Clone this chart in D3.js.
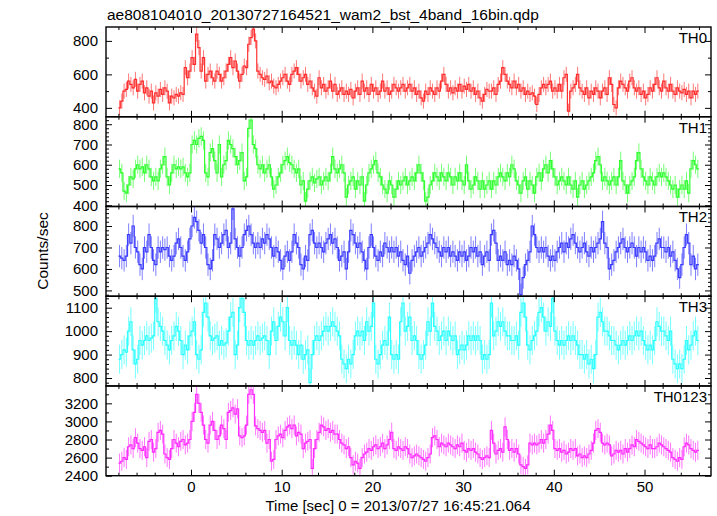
<!DOCTYPE html>
<html><head><meta charset="utf-8">
<script src="https://cdn.jsdelivr.net/npm/d3@7"></script>
<style>
body{margin:0;background:#fff;}
svg{display:block;}
text{font-family:"Liberation Sans",Arial,Helvetica,sans-serif;fill:#000;}
</style></head>
<body><svg id="c" width="717" height="516"></svg>
<script>
const title = "ae808104010_20130727164521_wam2_bst_4band_16bin.qdp";
const xLabel = "Time [sec] 0 = 2013/07/27 16:45:21.064";
const yLabel = "Counts/sec";
const panelNames = ["TH0", "TH1", "TH2", "TH3", "TH0123"];
const panelColors = ["#ff1a1a", "#1aff1a", "#2a2aff", "#1affff", "#ff1aff"];
const binStart = -8;      // sec, first bin edge
const binWidth = 0.25;    // sec
const xTickLabels = [0, 10, 20, 30, 40, 50];
const yDomains = [[347, 883], [394, 837], [473, 891], [766, 1149], [2400, 3392]];
const yTickLabels = [[400, 600, 800], [400, 500, 600, 700, 800], [500, 600, 700, 800], [800, 900, 1000, 1100], [2400, 2600, 2800, 3000, 3200]];
const yMinorStep = [100, 20, 20, 20, 100];
const errHalf = [45, 45, 52, 62, 105];

const th0 = [
400,440,500,510, 560,540,520,570, 500,540,560,490, 520,470,500,430,
490,470,510,480, 520,500,430,470, 460,480,470,490, 480,640,580,620,
700,660,840,760, 620,700,560,600, 620,580,560,620, 600,560,580,620,
660,700,640,680, 620,560,600,650, 640,780,820,870, 800,620,600,580,
570,590,550,560, 530,520,540,560, 580,600,560,540, 600,620,640,600,
560,580,600,540, 560,520,500,470, 580,520,540,500, 520,560,500,540,
480,500,520,480, 500,480,510,460, 500,520,480,560, 500,520,480,540,
500,520,480,500, 560,500,520,480, 500,540,520,500, 520,540,500,520,
540,500,520,480, 500,460,440,500, 480,520,500,480, 520,500,560,600,
540,500,520,490, 520,500,540,500, 530,510,540,500, 520,480,500,460,
440,480,510,500, 500,520,480,540, 560,640,600,560, 540,520,560,520,
540,500,520,480, 500,480,490,470, 420,480,520,540, 520,540,560,500,
520,500,540,500, 580,600,380,500, 520,540,600,520, 500,480,520,460,
500,480,520,500, 460,500,520,480, 580,540,420,400, 520,560,540,520,
500,560,580,520, 500,520,480,500, 460,480,520,500, 540,580,520,500,
560,520,500,540, 500,480,520,500, 490,510,480,500, 460,500,480,500];

const th1 = [
580,560,470,460, 500,540,530,580, 600,580,590,560, 600,580,540,520,
540,520,580,600, 640,540,500,560, 600,580,590,580, 590,560,540,560,
700,720,700,730, 740,720,560,540, 660,680,620,560, 700,540,600,620,
720,700,680,640, 600,620,660,520, 540,780,820,700, 680,600,580,600,
560,580,600,540, 480,500,540,560, 600,620,640,610, 600,580,560,580,
500,520,420,480, 520,540,510,530, 540,500,520,540, 520,560,640,580,
560,580,600,560, 440,500,520,540, 480,520,500,540, 420,500,560,580,
600,620,560,540, 500,480,460,520, 500,440,480,520, 500,520,540,500,
520,540,520,560, 600,560,520,420, 440,500,520,560, 540,520,560,540,
520,560,540,500, 540,520,560,520, 500,600,520,480, 500,540,520,480,
520,480,500,520, 480,520,500,540, 560,540,520,560, 540,600,580,520,
500,460,520,540, 480,520,500,460, 540,560,520,580, 600,560,620,580,
540,500,520,540, 520,500,540,500, 480,520,440,500, 520,480,500,520,
540,560,620,640, 600,520,540,520, 500,520,540,500, 540,620,520,500,
460,500,520,540, 620,660,580,540, 520,500,540,520, 500,540,560,540,
560,540,520,500, 480,500,440,480, 500,480,520,460, 580,620,600,580];

const th2 = [
660,650,640,660, 760,720,800,700, 680,620,600,700, 680,760,700,640,
620,700,680,700, 690,700,660,640, 660,720,740,700, 660,640,680,740,
800,840,820,780, 720,760,700,620, 600,640,760,740, 700,720,760,780,
700,720,880,740, 700,660,700,760, 780,800,760,720, 700,720,700,740,
720,760,740,700, 660,700,680,640, 600,660,680,640, 680,760,720,700,
620,600,660,640, 760,780,720,700, 720,700,680,720, 740,760,720,740,
700,640,660,680, 600,680,780,760, 720,700,720,680, 640,600,700,760,
700,660,640,680, 660,720,700,680, 700,680,700,660, 680,640,620,660,
580,640,660,680, 700,660,680,700, 720,760,740,720, 700,680,660,700,
680,700,660,680, 660,640,680,660, 680,640,660,700, 680,700,660,680,
620,660,680,640, 760,780,720,640, 660,640,680,620, 640,620,660,640,
600,480,560,620, 640,680,800,760, 700,680,700,680, 700,660,640,660,
640,680,700,720, 680,720,700,740, 760,720,700,680, 700,720,680,660,
700,680,700,720, 740,820,720,700, 600,620,640,680, 700,720,740,700,
680,700,720,700, 660,700,680,700, 680,640,660,640, 660,720,740,700,
700,680,700,660, 680,640,600,560, 620,700,760,720, 620,660,600,620];

const th3 = [
880,900,920,910, 1000,1040,920,860, 880,960,940,960, 980,960,970,980,
1140,1040,1020,1000, 960,940,920,960, 980,1020,1000,960, 900,940,920,980,
1000,1040,900,880, 920,1080,1120,1060, 980,960,970,980, 940,960,940,950,
1000,1060,1080,900, 940,1100,1140,1080, 960,940,960,940, 960,980,960,970,
980,960,900,1000, 1040,960,1020,1060, 1040,980,1100,960, 940,960,940,900,
940,880,900,920, 780,900,960,980, 960,980,1000,1020, 1000,1020,1040,1020,
1000,980,880,860, 840,880,860,900, 980,1000,980,1000, 960,1040,1000,1020,
1120,880,860,900, 940,960,940,1060, 900,880,900,880, 1040,1120,1000,1020,
1060,960,980,960, 900,880,900,940, 1040,1000,1120,1020, 1000,960,980,1000,
960,1000,980,960, 980,900,920,940, 920,940,980,960, 980,960,980,960,
880,900,880,900, 1120,980,1000,1040, 1020,1040,1000,980, 980,960,960,980,
940,1080,1120,1060, 940,920,960,980, 1000,1080,1100,1060, 1000,1040,1020,1140,
1000,960,940,960, 940,960,980,960, 980,960,940,900, 900,880,900,860,
880,840,900,1060, 1080,1040,1000,1000, 980,960,960,940, 920,940,960,940,
960,980,960,980, 1000,980,1000,960, 940,920,940,920, 960,1040,1020,1000,
1000,980,960,1000, 880,860,840,860, 840,880,960,920, 940,980,1000,960];

const th0123 = [
2540,2560,2600,2580, 2720,2740,2700,2820, 2760,2700,2680,2720, 2600,2780,2800,2660,
2700,2880,2900,2860, 2640,2600,2580,2700, 2800,2760,2720,2780, 2800,2740,2760,2800,
3000,3100,3300,3200, 3100,2960,2800,2760, 2960,3000,2900,2800, 2840,2960,2920,2800,
3100,3120,3150,3080, 3140,2840,2820,2840, 2960,3300,3350,3300, 2950,2920,2900,2880,
2900,2760,2800,2560, 2580,2800,2840,2860, 2820,2900,2940,2960, 2920,2960,2840,2880,
2860,2700,2760,2780, 2800,2480,2700,2800, 2880,2960,2940,2900, 2920,2880,2900,2860,
2860,2800,2760,2740, 2700,2720,2600,2520, 2560,2540,2480,2600, 2640,2660,2700,2680,
2720,2740,2700,2720, 2760,2700,2740,2800, 2880,2700,2680,2720, 2700,2680,2720,2700,
2640,2600,2620,2640, 2620,2600,2580,2560, 2600,2640,2820,2840, 2800,2720,2760,2740,
2720,2760,2740,2720, 2700,2740,2720,2760, 2680,2660,2700,2680, 2700,2660,2640,2600,
2580,2600,2620,2600, 2900,2760,2640,2680, 2700,2660,2940,2800, 2680,2700,2660,2700,
2640,2520,2500,2480, 2520,2760,2740,2760, 2740,2760,2800,2760, 2800,2860,2960,2900,
2700,2680,2700,2660, 2680,2640,2660,2700, 2680,2700,2620,2640, 2600,2620,2600,2640,
2680,2760,2900,2920, 2880,2760,2740,2760, 2740,2620,2640,2680, 2660,2680,2640,2700,
2660,2700,2740,2720, 2800,2780,2760,2740, 2720,2700,2740,2700, 2700,2720,2760,2740,
2720,2700,2680,2660, 2600,2580,2560,2600, 2580,2720,2760,2740, 2700,2680,2660,2680];

const seriesValues = [th0, th1, th2, th3, th0123];

// ---- layout ----
const plotLeft = 106, plotRight = 711;
const plotTop = 27, plotBottom = 475.7;
const nP = seriesValues.length;
const pH = (plotBottom - plotTop) / nP;
const FONT = '"Liberation Sans",Arial,sans-serif';

const svg = d3.select("#c");
const x = d3.scaleLinear().domain([-9.37, 57.33]).range([plotLeft, plotRight]);
const xMinor = d3.range(-8, 58, 2).filter(v => v % 10 !== 0);

const defs = svg.append("defs");

seriesValues.forEach((vals, p) => {
  const top = plotTop + p * pH, bot = top + pH;
  const y = d3.scaleLinear().domain(yDomains[p]).range([bot, top]);
  const color = panelColors[p];
  const g = svg.append("g");

  defs.append("clipPath").attr("id", "clip" + p)
    .append("rect").attr("x", plotLeft).attr("y", top).attr("width", plotRight - plotLeft).attr("height", pH);

  const data = vals.map((v, i) => ({ t: binStart + binWidth * (i + 0.5), v: v }));
  const dg = g.append("g").attr("clip-path", "url(#clip" + p + ")");

  // error bars
  dg.selectAll("line.err").data(data).enter().append("line")
    .attr("x1", d => x(d.t)).attr("x2", d => x(d.t))
    .attr("y1", d => y(d.v - errHalf[p])).attr("y2", d => y(d.v + errHalf[p]))
    .attr("stroke", color).attr("stroke-opacity", 0.6).attr("stroke-width", 1);

  // step line
  const pts = [];
  data.forEach(d => { pts.push([d.t - binWidth / 2, d.v]); pts.push([d.t + binWidth / 2, d.v]); });
  dg.append("path").datum(pts)
    .attr("d", d3.line().x(d => x(d[0])).y(d => y(d[1])))
    .attr("fill", "none").attr("stroke", color).attr("stroke-width", 1.2).attr("stroke-opacity", 0.9);

  // y axes
  const yMinorVals = d3.range(Math.ceil(yDomains[p][0] / yMinorStep[p]) * yMinorStep[p], yDomains[p][1], yMinorStep[p])
    .filter(v => !yTickLabels[p].includes(v));
  const yAx = g.append("g").attr("transform", `translate(${plotLeft},0)`)
    .call(d3.axisLeft(y).tickValues(yTickLabels[p]).tickSize(-6).tickPadding(8).tickFormat(d3.format("d")));
  yAx.call(s => s.select(".domain").remove());
  yAx.selectAll("text").style("font-size", "15px").style("font-family", FONT).attr("fill", "#000");
  g.append("g").attr("transform", `translate(${plotLeft},0)`)
    .call(d3.axisLeft(y).tickValues(yMinorVals).tickSize(-3).tickFormat(""))
    .call(s => s.select(".domain").remove());
  g.append("g").attr("transform", `translate(${plotRight},0)`)
    .call(d3.axisRight(y).tickValues(yTickLabels[p]).tickSize(-6).tickFormat(""))
    .call(s => s.select(".domain").remove());
  g.append("g").attr("transform", `translate(${plotRight},0)`)
    .call(d3.axisRight(y).tickValues(yMinorVals).tickSize(-3).tickFormat(""))
    .call(s => s.select(".domain").remove());

  // x ticks top & bottom
  const last = p === nP - 1;
  const xb = g.append("g").attr("transform", `translate(0,${bot})`)
    .call(d3.axisBottom(x).tickValues(xTickLabels).tickSize(-6).tickPadding(last ? 6 : 0).tickFormat(last ? d3.format("d") : ""));
  xb.call(s => s.select(".domain").remove());
  xb.selectAll("text").style("font-size", "15px").style("font-family", FONT).attr("fill", "#000");
  g.append("g").attr("transform", `translate(0,${bot})`)
    .call(d3.axisBottom(x).tickValues(xMinor).tickSize(-3).tickFormat(""))
    .call(s => s.select(".domain").remove());
  g.append("g").attr("transform", `translate(0,${top})`)
    .call(d3.axisTop(x).tickValues(xTickLabels).tickSize(-6).tickFormat(""))
    .call(s => s.select(".domain").remove());
  g.append("g").attr("transform", `translate(0,${top})`)
    .call(d3.axisTop(x).tickValues(xMinor).tickSize(-3).tickFormat(""))
    .call(s => s.select(".domain").remove());

  g.selectAll(".tick line").attr("stroke", "#000").attr("stroke-width", 1);

  // frame
  g.append("rect").attr("x", plotLeft).attr("y", top).attr("width", plotRight - plotLeft).attr("height", pH)
    .attr("fill", "none").attr("stroke", "#000").attr("stroke-width", 1.4);

  // panel name
  g.append("text").attr("x", plotRight - 4).attr("y", top + 16).attr("text-anchor", "end")
    .style("font-size", "15px").text(panelNames[p]);
});

svg.append("text").attr("x", 107).attr("y", 19.5).style("font-size", "15.5px").text(title);
svg.append("text").attr("x", 398).attr("y", 511).attr("text-anchor", "middle").style("font-size", "15px").text(xLabel);
svg.append("text").attr("transform", "translate(48,251) rotate(-90)").attr("text-anchor", "middle").style("font-size", "15.5px").text(yLabel);
</script></body></html>
